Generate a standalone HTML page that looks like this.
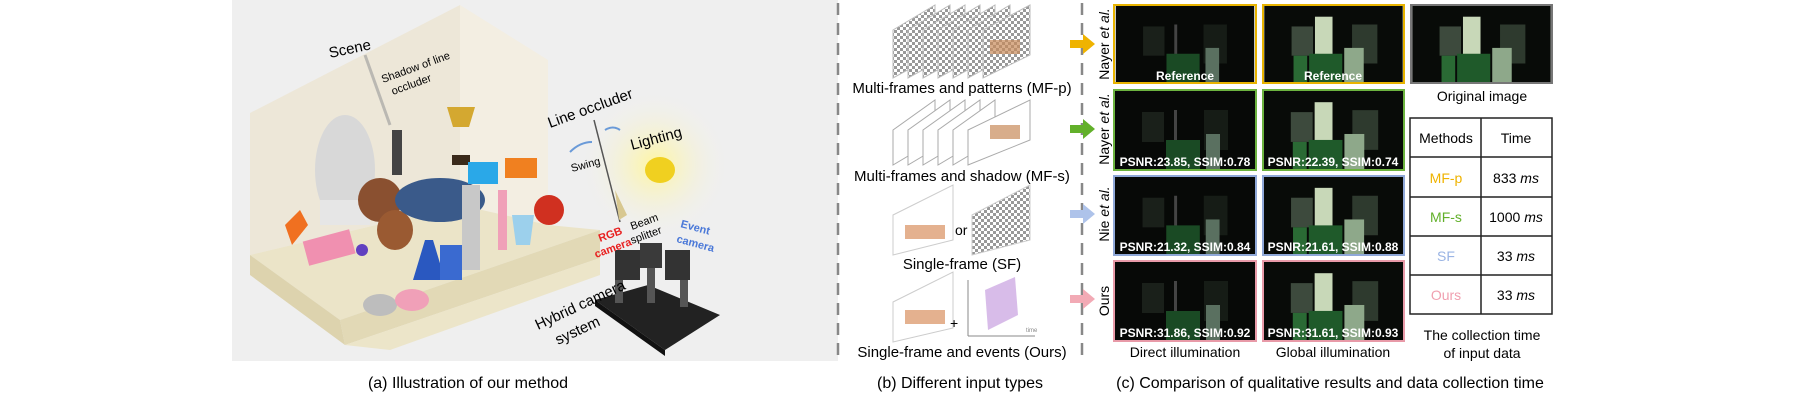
<!DOCTYPE html>
<html><head><meta charset="utf-8"><style>
html,body{margin:0;padding:0;background:#fff}
svg{display:block}
text{font-family:"Liberation Sans",sans-serif}
</style></head><body>
<svg width="1800" height="400" viewBox="0 0 1800 400" xmlns="http://www.w3.org/2000/svg">
<defs>
<radialGradient id="glow" cx="0.5" cy="0.5" r="0.5"><stop offset="0" stop-color="#fff6a0"/><stop offset="1" stop-color="#f0f0f0" stop-opacity="0"/></radialGradient>
<pattern id="chk" width="6" height="6" patternUnits="userSpaceOnUse"><rect width="6" height="6" fill="#fff"/><rect width="3" height="3" fill="#999"/><rect x="3" y="3" width="3" height="3" fill="#999"/></pattern>
<symbol id="gscene" viewBox="0 0 142 80">
<rect width="142" height="80" fill="#080b08"/>
<rect x="28" y="22" width="22" height="30" fill="#3d4a3d"/>
<rect x="52" y="12" width="18" height="40" fill="#c8d8b8"/>
<rect x="46" y="50" width="34" height="30" fill="#1f5a2a"/>
<rect x="30" y="52" width="14" height="28" fill="#2a6a34"/>
<rect x="90" y="20" width="26" height="40" fill="#2e3a2e"/>
<rect x="82" y="44" width="20" height="36" fill="#8ea88a"/>
</symbol>
<symbol id="dscene" viewBox="0 0 142 80">
<rect width="142" height="80" fill="#070907"/>
<rect x="28" y="22" width="22" height="30" fill="#1a201a"/>
<rect x="60" y="20" width="3" height="40" fill="#444"/>
<rect x="52" y="50" width="34" height="30" fill="#1a4a24"/>
<rect x="90" y="20" width="24" height="40" fill="#161c16"/>
<rect x="92" y="44" width="14" height="36" fill="#5a7060"/>
</symbol>
</defs>

<!-- panel a background -->
<rect x="232" y="0" width="606" height="361" fill="#efefef"/>
<circle cx="655" cy="165" r="75" fill="url(#glow)"/>
<!-- walls -->
<polygon points="250,113 460,5 460,205 250,255" fill="#ede7d8"/>
<polygon points="460,5 548,60 548,225 460,205" fill="#f3eee2"/>
<!-- shelf top -->
<polygon points="250,255 460,205 548,225 600,230 340,320" fill="#ebe4c8"/>
<polygon points="340,320 600,230 600,258 345,345" fill="#e2d9b6"/>
<polygon points="345,345 600,258 600,275 390,350" fill="#ece5c9"/>
<polygon points="250,255 340,320 345,345 250,275" fill="#ddd3ae"/>
<!-- objects -->
<ellipse cx="345" cy="170" rx="30" ry="55" fill="#d8d8d8"/>
<rect x="320" y="200" width="50" height="25" fill="#e6e6e6"/>
<rect x="392" y="130" width="10" height="45" fill="#444"/>
<path d="M447,107 h28 l-6,20 h-16 z" fill="#d4a830"/>
<rect x="452" y="155" width="18" height="10" fill="#3a2a1a"/>
<ellipse cx="380" cy="200" rx="22" ry="22" fill="#8a5030"/>
<ellipse cx="395" cy="230" rx="18" ry="20" fill="#9a5a32"/>
<ellipse cx="440" cy="200" rx="45" ry="22" fill="#3a5a8a"/>
<rect x="468" y="162" width="30" height="22" fill="#2aa8e8"/>
<rect x="505" y="158" width="32" height="20" fill="#f08020"/>
<rect x="462" y="185" width="18" height="85" fill="#c8c8c8"/>
<rect x="498" y="190" width="9" height="60" fill="#f0a0b8"/>
<path d="M512,215 h22 l-4,30 h-14 z" fill="#9cd0ec"/>
<circle cx="549" cy="210" r="15" fill="#d03020"/>
<polygon points="300,210 308,225 292,245 285,225" fill="#f07020"/>
<rect x="305" y="235" width="48" height="25" fill="#f090b0" transform="rotate(-15 329 247)"/>
<circle cx="362" cy="250" r="6" fill="#6040c0"/>
<path d="M425,240 h8 l12,40 h-32 z" fill="#2a58c0"/>
<rect x="440" y="245" width="22" height="35" fill="#3a6ad0"/>
<ellipse cx="380" cy="305" rx="17" ry="11" fill="#bdbdbd"/>
<ellipse cx="412" cy="300" rx="17" ry="11" fill="#f0a0b8"/>
<!-- occluder line -->
<line x1="594" y1="120" x2="620" y2="222" stroke="#555" stroke-width="1.5"/>
<line x1="365" y1="55" x2="390" y2="125" stroke="#999" stroke-width="3" opacity="0.6"/>
<ellipse cx="660" cy="170" rx="15" ry="13" fill="#f0d020"/>
<path d="M570,152 q10,-10 22,-10" stroke="#6a9ad8" stroke-width="2" fill="none"/>
<path d="M605,130 q8,-5 15,0" stroke="#6a9ad8" stroke-width="2" fill="none"/>
<path d="M615,190 l12,25 l-8,5 z" fill="#d8c890"/>
<!-- camera rig -->
<polygon points="595,300 648,285 720,315 665,350" fill="#222"/>
<polygon points="595,300 665,350 665,356 595,306" fill="#111"/>
<rect x="615" y="258" width="8" height="45" fill="#555"/>
<rect x="647" y="258" width="8" height="45" fill="#555"/>
<rect x="680" y="262" width="8" height="45" fill="#555"/>
<rect x="615" y="250" width="25" height="30" fill="#333"/>
<rect x="640" y="243" width="22" height="25" fill="#3a3a3a"/>
<rect x="665" y="250" width="25" height="30" fill="#333"/>
<!-- labels a -->
<text x="330" y="58" font-size="15" transform="rotate(-12 330 58)">Scene</text>
<text x="383" y="83" font-size="11" transform="rotate(-20 383 83)">Shadow of line</text>
<text x="393" y="95" font-size="11" transform="rotate(-20 393 95)">occluder</text>
<text x="550" y="128" font-size="15" transform="rotate(-20 550 128)">Line occluder</text>
<text x="632" y="150" font-size="15" transform="rotate(-15 632 150)">Lighting</text>
<text x="572" y="172" font-size="11" transform="rotate(-15 572 172)">Swing</text>
<text x="632" y="230" font-size="11" transform="rotate(-20 632 230)">Beam</text>
<text x="632" y="244" font-size="11" transform="rotate(-20 632 244)">splitter</text>
<text x="600" y="242" font-size="11" font-weight="bold" fill="#e82020" transform="rotate(-20 600 242)">RGB</text>
<text x="596" y="258" font-size="11" font-weight="bold" fill="#e82020" transform="rotate(-20 596 258)">camera</text>
<text x="680" y="227" font-size="11" font-weight="bold" fill="#4a78d8" transform="rotate(15 680 227)">Event</text>
<text x="676" y="242" font-size="11" font-weight="bold" fill="#4a78d8" transform="rotate(15 676 242)">camera</text>
<text x="538" y="330" font-size="15" transform="rotate(-25 538 330)">Hybrid camera</text>
<text x="558" y="345" font-size="15" transform="rotate(-25 558 345)">system</text>

<!-- dashed dividers -->
<line x1="838" y1="3" x2="838" y2="362" stroke="#888" stroke-width="2.5" stroke-dasharray="12,8"/>
<line x1="1082" y1="3" x2="1082" y2="362" stroke="#888" stroke-width="2.5" stroke-dasharray="12,8"/>

<!-- panel b -->
<g>
<polygon points="893,30 935,5 935,55 893,78" fill="url(#chk)" stroke="#bbb"/>
<polygon points="908,30 950,5 950,55 908,78" fill="url(#chk)" stroke="#bbb"/>
<polygon points="923,30 965,5 965,55 923,78" fill="url(#chk)" stroke="#bbb"/>
<polygon points="938,30 980,5 980,55 938,78" fill="url(#chk)" stroke="#bbb"/>
<polygon points="953,30 995,5 995,55 953,78" fill="url(#chk)" stroke="#bbb"/>
<polygon points="968,30 1010,5 1010,55 968,78" fill="url(#chk)" stroke="#bbb"/>
<polygon points="983,30 1030,5 1030,55 983,78" fill="url(#chk)" stroke="#bbb"/>
<rect x="990" y="40" width="30" height="14" fill="#c88a5a" opacity="0.7"/>
</g>
<text x="962" y="93" font-size="15" text-anchor="middle">Multi-frames and patterns (MF-p)</text>
<g fill="#fff" stroke="#aaa">
<polygon points="893,130 935,100 935,140 893,165"/>
<polygon points="908,130 950,100 950,140 908,165"/>
<polygon points="923,130 965,100 965,140 923,165"/>
<polygon points="938,130 980,100 980,140 938,165"/>
<polygon points="953,130 995,100 995,140 953,165"/>
<polygon points="968,130 1030,100 1030,140 968,165"/>
</g>
<rect x="990" y="125" width="30" height="14" fill="#c88a5a" opacity="0.7"/>
<text x="962" y="181" font-size="15" text-anchor="middle">Multi-frames and shadow (MF-s)</text>
<polygon points="893,215 953,185 953,240 893,255" fill="#fff" stroke="#ccc"/>
<rect x="905" y="225" width="40" height="14" fill="#d89060" opacity="0.7"/>
<text x="955" y="235" font-size="14">or</text>
<polygon points="972,215 1030,185 1030,240 972,255" fill="url(#chk)" stroke="#ccc"/>
<text x="962" y="269" font-size="15" text-anchor="middle">Single-frame (SF)</text>
<polygon points="893,302 953,272 953,328 893,342" fill="#fff" stroke="#ccc"/>
<rect x="905" y="310" width="40" height="14" fill="#d89060" opacity="0.7"/>
<text x="950" y="328" font-size="14">+</text>
<line x1="968" y1="336" x2="968" y2="280" stroke="#888"/>
<line x1="968" y1="336" x2="1035" y2="336" stroke="#888"/>
<polygon points="985,290 1015,277 1018,315 988,330" fill="#c8a0e0" opacity="0.7"/>
<text x="1026" y="332" font-size="6" fill="#888">time</text>
<text x="962" y="357" font-size="15" text-anchor="middle">Single-frame and events (Ours)</text>

<!-- arrows -->
<g>
<polygon points="1070,40 1083,40 1083,34 1095,44 1083,54 1083,48 1070,48" fill="#efb300"/>
<polygon points="1070,125 1083,125 1083,119 1095,129 1083,139 1083,133 1070,133" fill="#62b02a"/>
<polygon points="1070,210 1083,210 1083,204 1095,214 1083,224 1083,218 1070,218" fill="#aec3ea"/>
<polygon points="1070,295 1083,295 1083,289 1095,299 1083,309 1083,303 1070,303" fill="#f2aab5"/>
</g>
<text font-size="14" transform="translate(1109 44) rotate(-90)" text-anchor="middle">Nayer <tspan font-style="italic">et al.</tspan></text>
<text font-size="14" transform="translate(1109 129) rotate(-90)" text-anchor="middle">Nayer <tspan font-style="italic">et al.</tspan></text>
<text font-size="14" transform="translate(1109 214) rotate(-90)" text-anchor="middle">Nie <tspan font-style="italic">et al.</tspan></text>
<text font-size="14" transform="translate(1109 301) rotate(-90)" text-anchor="middle">Ours</text>

<!-- image grid -->
<g stroke-width="2" fill="none">
<use href="#dscene" x="1114" y="5" width="142" height="78"/>
<rect x="1114" y="5" width="142" height="78" stroke="#e8b400"/>
<use href="#gscene" x="1263" y="5" width="141" height="78"/>
<rect x="1263" y="5" width="141" height="78" stroke="#e8b400"/>
<use href="#dscene" x="1114" y="90" width="142" height="80"/>
<rect x="1114" y="90" width="142" height="80" stroke="#6cb33f"/>
<use href="#gscene" x="1263" y="90" width="141" height="80"/>
<rect x="1263" y="90" width="141" height="80" stroke="#6cb33f"/>
<use href="#dscene" x="1114" y="176" width="142" height="79"/>
<rect x="1114" y="176" width="142" height="79" stroke="#8fa8d8"/>
<use href="#gscene" x="1263" y="176" width="141" height="79"/>
<rect x="1263" y="176" width="141" height="79" stroke="#8fa8d8"/>
<use href="#dscene" x="1114" y="261" width="142" height="80"/>
<rect x="1114" y="261" width="142" height="80" stroke="#e89aa8"/>
<use href="#gscene" x="1263" y="261" width="141" height="80"/>
<rect x="1263" y="261" width="141" height="80" stroke="#e89aa8"/>
<use href="#gscene" x="1411" y="5" width="141" height="78"/>
<rect x="1411" y="5" width="141" height="78" stroke="#777"/>
</g>
<g font-size="12" fill="#fff" text-anchor="middle" font-weight="bold">
<text x="1185" y="80">Reference</text>
<text x="1333" y="80">Reference</text>
<text x="1185" y="166">PSNR:23.85, SSIM:0.78</text>
<text x="1333" y="166">PSNR:22.39, SSIM:0.74</text>
<text x="1185" y="251">PSNR:21.32, SSIM:0.84</text>
<text x="1333" y="251">PSNR:21.61, SSIM:0.88</text>
<text x="1185" y="337">PSNR:31.86, SSIM:0.92</text>
<text x="1333" y="337">PSNR:31.61, SSIM:0.93</text>
</g>
<text x="1482" y="101" font-size="14" text-anchor="middle">Original image</text>
<!-- table -->
<g stroke="#222" stroke-width="1.5" fill="none">
<rect x="1410" y="118" width="142" height="196"/>
<line x1="1481" y1="118" x2="1481" y2="314"/>
<line x1="1410" y1="157" x2="1552" y2="157"/>
<line x1="1410" y1="197" x2="1552" y2="197"/>
<line x1="1410" y1="236" x2="1552" y2="236"/>
<line x1="1410" y1="275" x2="1552" y2="275"/>
</g>
<g font-size="14" text-anchor="middle">
<text x="1446" y="143">Methods</text><text x="1516" y="143">Time</text>
<text x="1446" y="183" fill="#efb300">MF-p</text><text x="1516" y="183">833 <tspan font-style="italic">ms</tspan></text>
<text x="1446" y="222" fill="#62b02a">MF-s</text><text x="1516" y="222">1000 <tspan font-style="italic">ms</tspan></text>
<text x="1446" y="261" fill="#9ab4e4">SF</text><text x="1516" y="261">33 <tspan font-style="italic">ms</tspan></text>
<text x="1446" y="300" fill="#f0a0b0">Ours</text><text x="1516" y="300">33 <tspan font-style="italic">ms</tspan></text>
</g>
<text x="1185" y="357" font-size="14" text-anchor="middle">Direct illumination</text>
<text x="1333" y="357" font-size="14" text-anchor="middle">Global illumination</text>
<text x="1482" y="340" font-size="14" text-anchor="middle">The collection time</text>
<text x="1482" y="358" font-size="14" text-anchor="middle">of input data</text>

<!-- captions -->
<text x="468" y="388" font-size="16" text-anchor="middle">(a) Illustration of our method</text>
<text x="960" y="388" font-size="16" text-anchor="middle">(b) Different input types</text>
<text x="1330" y="388" font-size="16" text-anchor="middle">(c) Comparison of qualitative results and data collection time</text>
</svg>
</body></html>
